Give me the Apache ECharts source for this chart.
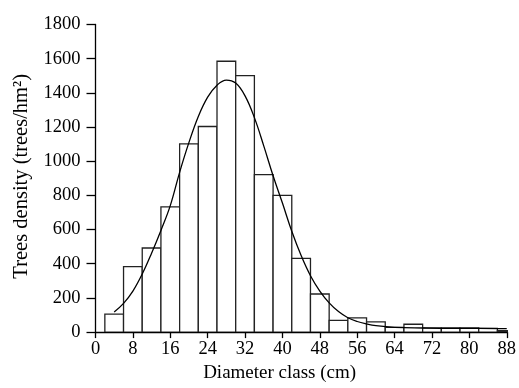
<!DOCTYPE html>
<html><head><meta charset="utf-8">
<script src="https://cdn.jsdelivr.net/npm/echarts@6/dist/echarts.min.js"></script>
<style>html,body{margin:0;padding:0;background:#fff}#c{width:519px;height:388px}</style>
</head><body><div id="c"></div>
<script>
// Diameter class centres (cm), bin width 4 cm
const classCenters = [4, 8, 12, 16, 20, 24, 28, 32, 36, 40, 44, 48, 52, 56, 60, 64, 68, 72, 76, 80, 84, 88];
const treeDensity  = [105, 383, 492, 733, 1102, 1203, 1585, 1501, 922, 800, 431, 223, 69, 83, 60, 28, 46, 25, 25, 25, 22, 8];
const binWidth = 4;
// Fitted distribution curve
const fitX = [4, 6, 8, 10, 12, 14, 16, 18, 20, 22, 24, 26, 28, 30, 32, 34, 36, 38, 40, 42, 44, 46, 48, 50, 52, 54, 56, 58, 60, 64, 70, 76, 82, 88];
const fitY = [118, 168, 240, 340, 462, 595, 740, 935, 1110, 1262, 1375, 1445, 1475, 1457, 1382, 1255, 1090, 915, 755, 590, 448, 330, 240, 171, 120, 84, 62, 48, 38, 28, 24, 22, 22, 20];

const FONT = 'Liberation Serif';
const chart = echarts.init(document.getElementById('c'), null, {renderer: 'canvas'});
chart.setOption({
  animation: false,
  backgroundColor: '#fff',
  grid: {left: 95.5, right: 9, top: 24.5, bottom: 55.5, containLabel: false},
  xAxis: {
    type: 'value', min: 0, max: 88, interval: 8,
    name: 'Diameter class (cm)', nameLocation: 'middle', nameGap: 24,
    nameTextStyle: {fontFamily: FONT, fontSize: 19, color: '#000', padding: [0, 43, 0, 0]},
    axisLine: {show: true, lineStyle: {color: '#000', width: 1.3}},
    axisTick: {show: true, length: 6, lineStyle: {color: '#000', width: 1.3}},
    axisLabel: {fontFamily: FONT, fontSize: 18.5, color: '#000', margin: 8, formatter: v => String(v)},
    splitLine: {show: false}
  },
  yAxis: {
    type: 'value', min: 0, max: 1800, interval: 200,
    name: 'Trees density (trees/hm²)', nameLocation: 'middle', nameGap: 62,
    nameTextStyle: {fontFamily: FONT, fontSize: 20.5, color: '#000', padding: [0, 0, 0, 4]},
    axisLine: {show: true, lineStyle: {color: '#000', width: 1.3}},
    axisTick: {show: true, length: 9, lineStyle: {color: '#000', width: 1.3}},
    axisLabel: {fontFamily: FONT, fontSize: 18.5, color: '#000', margin: 15, formatter: v => String(v)},
    splitLine: {show: false}
  },
  series: [
    {
      type: 'custom', clip: true, z: 2,
      data: classCenters.map((c, i) => [c, treeDensity[i]]),
      renderItem: function (params, api) {
        const x = api.value(0), v = api.value(1);
        const p0 = api.coord([x - binWidth / 2, v]);
        const p1 = api.coord([x + binWidth / 2, 0]);
        return {
          type: 'rect',
          shape: {x: p0[0], y: p0[1], width: p1[0] - p0[0], height: p1[1] - p0[1]},
          style: {fill: '#fff', stroke: '#222', lineWidth: 1.3}
        };
      }
    },
    {
      type: 'line', z: 3, smooth: 0.4, symbol: 'none',
      data: fitX.map((x, i) => [x, fitY[i]]),
      lineStyle: {color: '#000', width: 1.3}
    }
  ]
});
</script></body></html>
